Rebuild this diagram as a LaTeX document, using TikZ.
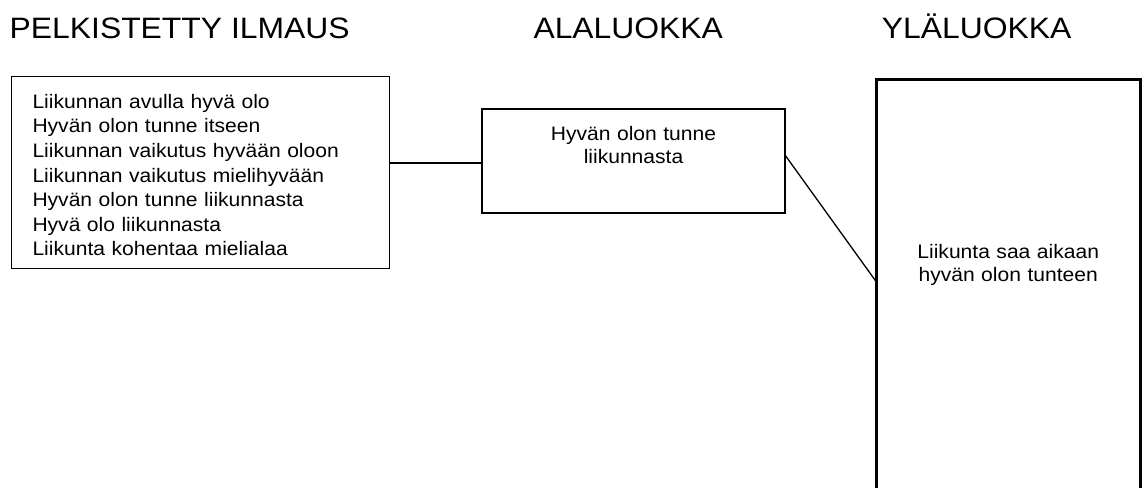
\documentclass[tikz,border=0pt]{standalone}
\usepackage{fontspec}
\setmainfont[FakeStretch=1.08]{Liberation Sans}
\usetikzlibrary{calc}
\begin{document}
\begin{tikzpicture}[x=1pt,y=-1pt,
  title/.style={anchor=base west, inner sep=0pt, font=\fontsize{29.5}{35}\selectfont},
  thinbox/.style={draw, line width=1.4pt, inner sep=0pt, outer sep=0pt, anchor=north west},
  thickbox/.style={draw, line width=3pt, inner sep=0pt, outer sep=0pt, anchor=north west},
  link/.style={line width=1.3pt}]
\useasboundingbox (0,0) rectangle (1142,487);

\node[title] (t1) at (9.5,38) {PELKISTETTY ILMAUS};
\node[title] (t2) at (533.3,38) {ALALUOKKA};
\node[title] (t3) at (881.7,38) {YLÄLUOKKA};

\node[thinbox, text width=335.8pt, inner xsep=21pt, align=left,
      font=\fontsize{19.5}{24.6}\selectfont] (b1) at (11.5,76.5)
  {\rule{0pt}{31.8pt}Liikunnan avulla hyvä olo\\
   Hyvän olon tunne itseen\\
   Liikunnan vaikutus hyvään oloon\\
   Liikunnan vaikutus mielihyvään\\
   Hyvän olon tunne liikunnasta\\
   Hyvä olo liikunnasta\\
   Liikunta kohentaa mielialaa\rule[-12.3pt]{0pt}{12.3pt}};

\node[thinbox, text width=303pt, align=center,
      font=\fontsize{19.5}{23.3}\selectfont] (b2) at (482,109)
  {\rule{0pt}{31pt}Hyvän olon tunne\\
   liikunnasta\rule[-49.7pt]{0pt}{49.7pt}};

\node[thickbox, text width=264pt, align=center,
      font=\fontsize{19.5}{23.4}\selectfont] (b3) at (876.2,79.5)
  {\rule{0pt}{178.8pt}Liikunta saa aikaan\\
   hyvän olon tunteen\rule[-218.3pt]{0pt}{218.3pt}};

\coordinate (j) at ([yshift=-2pt]b2.west);
\draw[link] (j) -- (j -| b1.east);
\draw[link] ([yshift=6pt]b2.east) -- ([yshift=-202.2pt]b3.north west);
\end{tikzpicture}
\end{document}
